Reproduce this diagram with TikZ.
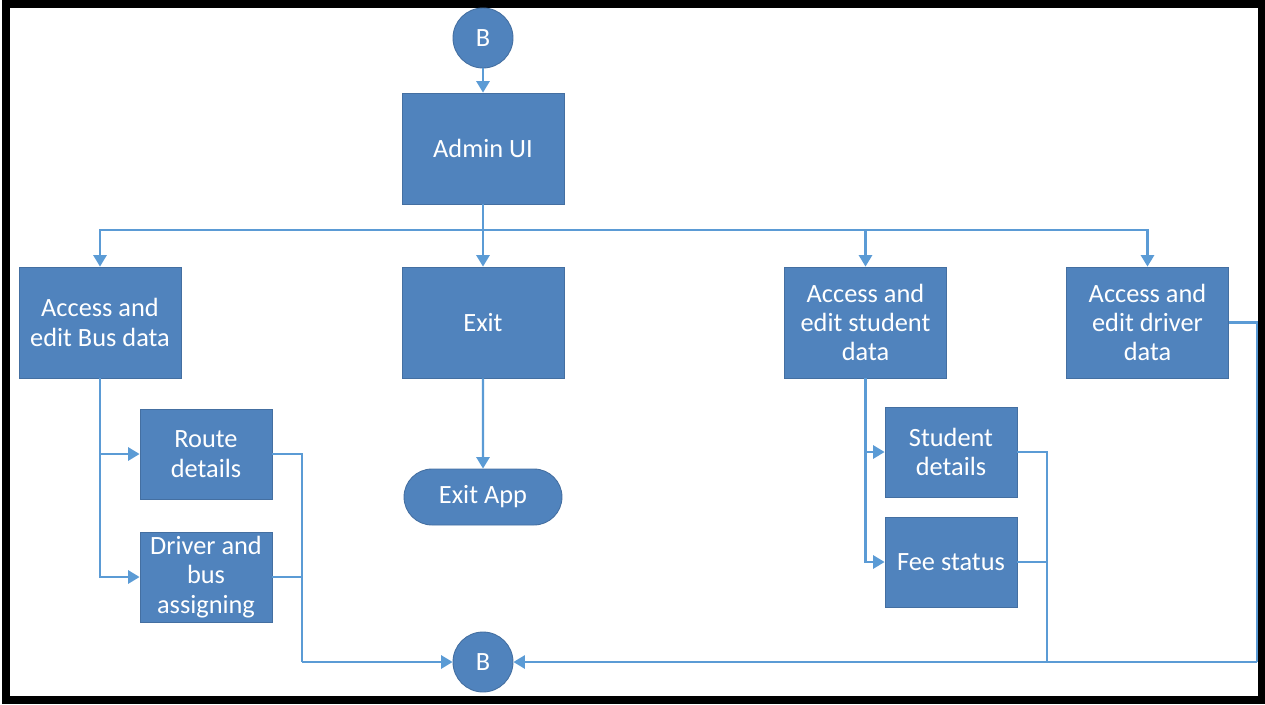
\documentclass[tikz,border=0pt]{standalone}
\usepackage{fontspec}
\setmainfont{Carlito}
\usetikzlibrary{arrows.meta,shapes.misc}
\definecolor{boxblue}{RGB}{80,131,189}
\definecolor{lineblue}{RGB}{91,155,213}
\begin{document}
\begin{tikzpicture}[x=0.02cm,y=-0.02cm]
\useasboundingbox (0,0) rectangle (1265,704);
\tikzstyle{every node}=[font=\fontsize{15}{16.7}\selectfont,text=white,fill=boxblue,draw=boxblue!85!black,line width=0.5pt,align=center,inner sep=2pt];
\tikzstyle{big}=[rectangle,minimum width=3.24cm,minimum height=2.22cm];
\tikzstyle{small}=[rectangle,minimum width=2.64cm,minimum height=1.8cm];
\tikzstyle{conn}=[circle,minimum size=1.2cm];
\tikzstyle{term}=[rounded rectangle,minimum width=3.3cm,minimum height=1.12cm];
\tikzstyle{flow}=[draw=lineblue,line width=1.2pt,-{Triangle[length=6.5pt,width=7.5pt]}];
\tikzstyle{link}=[draw=lineblue,line width=1.2pt];
% frame
\draw[line width=4.5pt] (6,4) rectangle (1262,700);
% nodes
\node[conn] (btop) at (483,38) {B};
\node[big] (admin) at (483,148.5) {Admin UI};
\node[big] (bus) at (100,322.5) {Access and\\edit Bus data};
\node[big] (exit) at (483,322.5) {Exit};
\node[big] (student) at (865.5,322.5) {Access and\\edit student\\data};
\node[big] (driver) at (1147.5,322.5) {Access and\\edit driver\\data};
\node[small] (route) at (206,454) {Route\\details};
\node[small] (assign) at (206,577) {Driver and\\bus\\assigning};
\node[term] (exitapp) at (483,497) {Exit App};
\node[small] (sdetails) at (951,452) {Student\\details};
\node[small] (fee) at (951,562) {Fee status};
\node[conn] (bbot) at (483,662) {B};
\coordinate (hub) at (483,230);
\coordinate (busjoin) at (302,662);
\coordinate (stujoin) at (1047,662);
\coordinate (drvjoin) at (1257,662);
% connectors
\draw[flow] (btop) -- (admin);
\draw[flow] (admin) -- (exit);
\draw[flow] (hub) -| (bus);
\draw[flow] (hub) -| (student);
\draw[flow] (hub) -| (driver);
\draw[flow] (exit) -- (exitapp);
\draw[flow] (bus.south) |- (route);
\draw[flow] (bus.south) |- (assign);
\draw[flow] (student.south) |- (sdetails);
\draw[flow] (student.south) |- (fee);
\draw[link] (route.east) -| (busjoin) (assign.east) -| (busjoin);
\draw[flow] (busjoin) -- (bbot);
\draw[link] (sdetails.east) -| (stujoin) (fee.east) -| (stujoin);
\draw[link] (driver.east) -| (drvjoin);
\draw[flow] (drvjoin) -- (bbot);
\end{tikzpicture}
\end{document}
